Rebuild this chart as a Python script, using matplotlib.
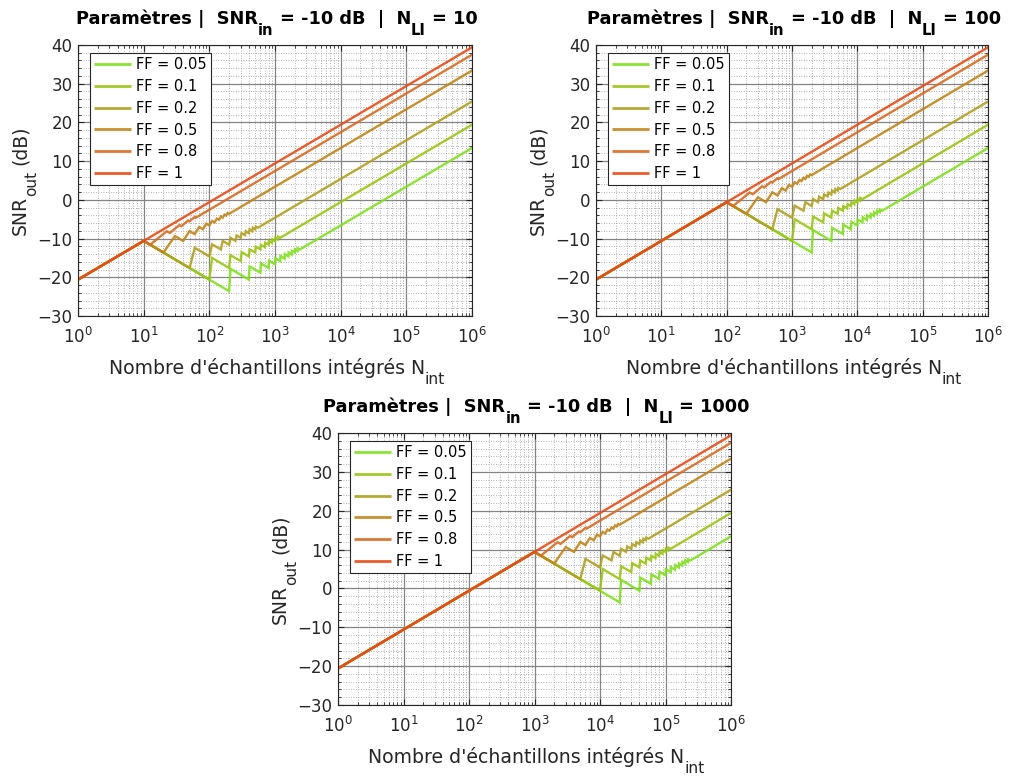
import matplotlib
matplotlib.use("Agg")
import matplotlib.pyplot as plt
from matplotlib.ticker import LogLocator, MultipleLocator, NullFormatter, FixedLocator

plt.rcParams['font.family'] = ['DejaVu Sans']
plt.rcParams['mathtext.fontset'] = 'dejavusans'

# ---------------- data ----------------
ff_labels = ['FF = 0.05', 'FF = 0.1', 'FF = 0.2', 'FF = 0.5', 'FF = 0.8', 'FF = 1']
ff_colors = ['#80E020', '#9AC414', '#B0A020', '#C08418', '#D86A20', '#E84A14']

n_li_values = [10, 100, 1000]
snr_in_db = -10
# panels 2 and 3 are panel 1 moved one / two decades right and 10 / 20 dB up
panel_x_factor = [1, 10, 100]
panel_y_offset = [0, 10, 20]

# common starting point (N_int = 1)
start_x = 1
start_y = -20.6

# vertices of each curve for the N_LI = 10 panel, from the knee onward
x_ff005 = [10, 200, 210, 400, 410, 600, 610, 800, 810, 1000, 1010, 1200, 1210,
           1400, 1410, 1600, 1610, 1800, 1810, 2000, 2010, 2200, 2210, 2400, 1e6]
y_ff005 = [-10.6, -23.6, -17.8, -20.6, -17.2, -18.8, -16.4, -17.6, -15.7, -16.6, -15.1,
           -15.8, -14.5, -15.2, -14.0, -14.6, -13.6, -14.1, -13.2, -13.6, -12.8,
           -13.2, -12.5, -12.8, 13.4]

x_ff01 = [10, 100, 110, 200, 210, 300, 310, 400, 410, 500, 510, 600, 610, 700, 710,
          800, 810, 900, 910, 1000, 1010, 1100, 1110, 1200, 1e6]
y_ff01 = [-10.6, -20.6, -15.0, -17.6, -14.3, -15.8, -13.5, -14.6, -12.8, -13.6, -12.1,
          -12.8, -11.6, -12.2, -11.1, -11.6, -10.6, -11.1, -10.2, -10.6, -9.8,
          -10.2, -9.5, -9.8, 19.4]

x_ff02 = [10, 50, 60, 100, 110, 150, 160, 200, 210, 250, 260, 300, 310, 350, 360,
          400, 410, 450, 460, 500, 510, 550, 1e6]
y_ff02 = [-10.6, -17.6, -12.4, -14.6, -11.5, -12.8, -10.6, -11.6, -9.8, -10.6, -9.2,
          -9.8, -8.6, -9.1, -8.1, -8.6, -7.6, -8.1, -7.2, -7.6, -6.9, -7.2, 25.4]

x_ff05 = [10, 20, 30, 40, 50, 60, 70, 80, 90, 100, 110, 120, 130, 140, 150, 160,
          170, 180, 190, 200, 1e6]
y_ff05 = [-10.6, -13.6, -9.35, -10.6, -8.05, -8.85, -7.0, -7.6, -6.15, -6.6, -5.45,
          -5.85, -4.85, -5.15, -4.3, -4.6, -3.8, -4.05, -3.4, -3.6, 33.4]

x_ff08 = [10, 12.5, 22.5, 25, 35, 37.5, 47.5, 50, 60, 62.5, 1e6]
y_ff08 = [-10.6, -11.6, -8.1, -8.55, -6.5, -6.8, -5.35, -5.55, -4.4, -4.6, 37.5]

x_ff1 = [10, 1e6]
y_ff1 = [-10.6, 39.4]

curves_x = [x_ff005, x_ff01, x_ff02, x_ff05, x_ff08, x_ff1]
curves_y = [y_ff005, y_ff01, y_ff02, y_ff05, y_ff08, y_ff1]

x_ticks = [1, 10, 100, 1000, 1e4, 1e5, 1e6]
x_ticklabels = [r'$10^{0}$', r'$10^{1}$', r'$10^{2}$', r'$10^{3}$',
                r'$10^{4}$', r'$10^{5}$', r'$10^{6}$']
y_ticks = [-30, -20, -10, 0, 10, 20, 30, 40]

# ---------------- figure ----------------
W, H = 1009, 776
fig = plt.figure(figsize=(W / 100, H / 100), dpi=100)
renderer = fig.canvas.get_renderer()
TXT = '#262626'

axes_boxes = [
    (78, 45, 472, 316),
    (596, 45, 988, 316),
    (338, 433, 731, 705),
]


def add_axes_px(l, t, r, b):
    return fig.add_axes([l / W, 1 - b / H, (r - l) / W, (b - t) / H])


def text_w(s, size, weight):
    t = fig.text(0, 0, 'X' + s + 'X', fontsize=size, fontweight=weight)
    w1 = t.get_window_extent(renderer).width
    t.set_text('XX')
    w2 = t.get_window_extent(renderer).width
    t.remove()
    return w1 - w2


def rich_text(cx, by, pieces, size, weight='normal', vertical=False,
              sub_scale=0.82, sub_drop=0.55):
    """Draw text with MATLAB-like subscripts. cx = centre along the text,
    by = baseline position (pixels from top-left)."""
    sizes = [size * sub_scale if sub else size for _, sub in pieces]
    widths = [text_w(s, sz, weight) for (s, _), sz in zip(pieces, sizes)]
    total = sum(widths)
    cursor = -total / 2.0
    drop = sub_drop * size * 100 / 72.0
    for (s, sub), sz, w in zip(pieces, sizes, widths):
        core = s.strip()
        lead = s[:len(s) - len(s.lstrip())]
        off = cursor + (text_w(lead, sz, weight) if lead else 0)
        d = drop if sub else 0
        if vertical:
            px, py = by + d, cx - off
            rot = 90
        else:
            px, py = cx + off, by + d
            rot = 0
        fig.text(px / W, 1 - py / H, core, fontsize=sz, fontweight=weight,
                 color=TXT if weight == 'normal' else 'black',
                 ha='left', va='baseline', rotation=rot, rotation_mode='anchor')
        cursor += w


for p, (l, t, r, b) in enumerate(axes_boxes):
    ax = add_axes_px(l, t, r, b)
    fx = panel_x_factor[p]
    oy = panel_y_offset[p]
    for i in range(len(ff_labels)):
        xs = [start_x] + [v * fx for v in curves_x[i]]
        ys = [start_y] + [v + oy for v in curves_y[i]]
        ax.plot(xs, ys, color=ff_colors[i], lw=1.7, alpha=0.9,
                label=ff_labels[i], solid_joinstyle='miter')
    ax.set_xscale('log')
    ax.set_xlim(1, 1e6)
    ax.set_ylim(-30, 40)
    ax.xaxis.set_major_locator(FixedLocator(x_ticks))
    ax.set_xticklabels(x_ticklabels)
    ax.xaxis.set_minor_locator(LogLocator(base=10, subs=range(2, 10), numticks=20))
    ax.xaxis.set_minor_formatter(NullFormatter())
    ax.set_yticks(y_ticks)
    ax.yaxis.set_minor_locator(MultipleLocator(2))
    ax.grid(True, which='major', color='#858585', lw=0.9, ls='-')
    ax.grid(True, which='minor', color='#9a9a9a', lw=0.6, ls=(0, (1, 2)))
    ax.set_axisbelow(True)
    ax.tick_params(which='both', direction='in', top=True, right=True,
                   labelsize=12, colors=TXT)
    ax.tick_params(which='major', length=4)
    ax.tick_params(which='minor', length=2)
    ax.tick_params(axis='x', which='major', pad=8)
    ax.tick_params(axis='y', which='major', pad=4)
    for s in ax.spines.values():
        s.set_color(TXT)
        s.set_linewidth(0.8)

    cx = (l + r) / 2.0
    cy = (t + b) / 2.0
    rich_text(cx + 2, b + 58, [("Nombre d'échantillons intégrés N", False), ('int', True)],
              13.6)
    rich_text(cy, l - 52, [('SNR', False), ('out', True), (' (dB)', False)], 13.5,
              vertical=True)
    rich_text(cx + 2, t - 21, [('Paramètres |  SNR', False), ('in', True),
                               (' = %d dB  |  N' % snr_in_db, False), ('LI', True),
                               (' = %d' % n_li_values[p], False)], 12.8, weight='bold',
              sub_drop=0.6)

    leg = ax.legend(loc='upper left', bbox_to_anchor=(12 / (r - l), 1 - 8 / (b - t)),
                    fontsize=10.5, handlelength=2.5, handletextpad=0.35,
                    borderaxespad=0, labelspacing=0.46, fancybox=False,
                    framealpha=1, edgecolor=TXT, borderpad=0.3)
    leg.get_frame().set_linewidth(0.8)
    for h in leg.get_lines():
        h.set_linewidth(2.0)
        h.set_solid_capstyle('butt')

fig.savefig('out.png', dpi=100)
